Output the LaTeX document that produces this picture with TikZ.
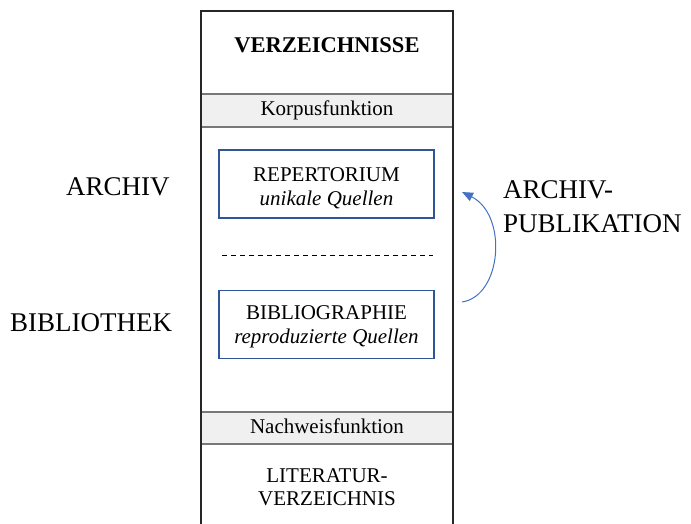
\documentclass[tikz,border=0pt]{standalone}
\usepackage{fontspec}
\setmainfont{Liberation Serif}
\usetikzlibrary{arrows.meta}
\definecolor{boxblue}{RGB}{47,85,151}
\definecolor{arrblue}{RGB}{68,114,196}
\definecolor{bandgray}{RGB}{240,240,240}
\definecolor{bandline}{RGB}{120,120,120}
\tikzset{
  txt/.style={inner sep=0pt, anchor=base, font=\fontsize{21}{24}\selectfont},
  itxt/.style={txt, font=\fontsize{21}{24}\selectfont\itshape},
  big/.style={inner sep=0pt, anchor=base west, font=\fontsize{27}{30}\selectfont},
  bluebox/.style={draw=boxblue, line width=1.3pt, minimum width=215pt, minimum height=68pt, inner sep=0pt},
  band/.style={fill=bandgray, draw=bandline, line width=1.2pt},
}
\begin{document}
\begin{tikzpicture}[x=1pt,y=-1pt]
\useasboundingbox (0,0) rectangle (691,524);
% bands
\path[band] (201,94) rectangle (453,127);
\path[band] (201,412) rectangle (453,444);
% main frame (open at the bottom)
\draw[line width=1.4pt, draw=black!85] (201,530) -- (201,11) -- (453,11) -- (453,530);
% header texts
\node[txt, font=\fontsize{22.5}{26}\selectfont\bfseries] (verz) at (327,53) {VERZEICHNISSE};
\node[txt] (korpus) at (327,116) {Korpusfunktion};
% inner boxes
\node[bluebox] (rep) at (326.5,184) {};
\node[txt] (repa) at (326.5,182) {REPERTORIUM};
\node[itxt] (repb) at (326.5,205) {unikale Quellen};
\coordinate (dl) at (222,255);
\coordinate (dr) at (433,255);
\draw[line width=0.8pt, dash pattern=on 5pt off 4pt] (dl) -- (dr);
\node[bluebox] (bib) at (326.5,324.5) {};
\node[txt] (biba) at (326.5,319) {BIBLIOGRAPHIE};
\node[itxt] (bibb) at (326.5,343) {reproduzierte Quellen};
% bottom texts
\node[txt] (nach) at (327,433) {Nachweisfunktion};
\node[txt] (lit1) at (327,482) {LITERATUR-};
\node[txt] (lit2) at (327,505) {VERZEICHNIS};
% side labels
\node[big] (archiv) at (66,196) {ARCHIV};
\node[big] (biblio) at (10,331) {BIBLIOTHEK};
\node[big] (pub1) at (503,198) {ARCHIV-};
\node[big] (pub2) at (503,232) {PUBLIKATION};
% arrow
\coordinate (atail) at (462,302);
\coordinate (ahead) at (462,192);
\draw[arrblue, line width=1pt, -{Triangle[length=11pt,width=9pt]}]
  (atail) .. controls (502,296) and (508,215) .. (ahead);
\end{tikzpicture}
\end{document}
